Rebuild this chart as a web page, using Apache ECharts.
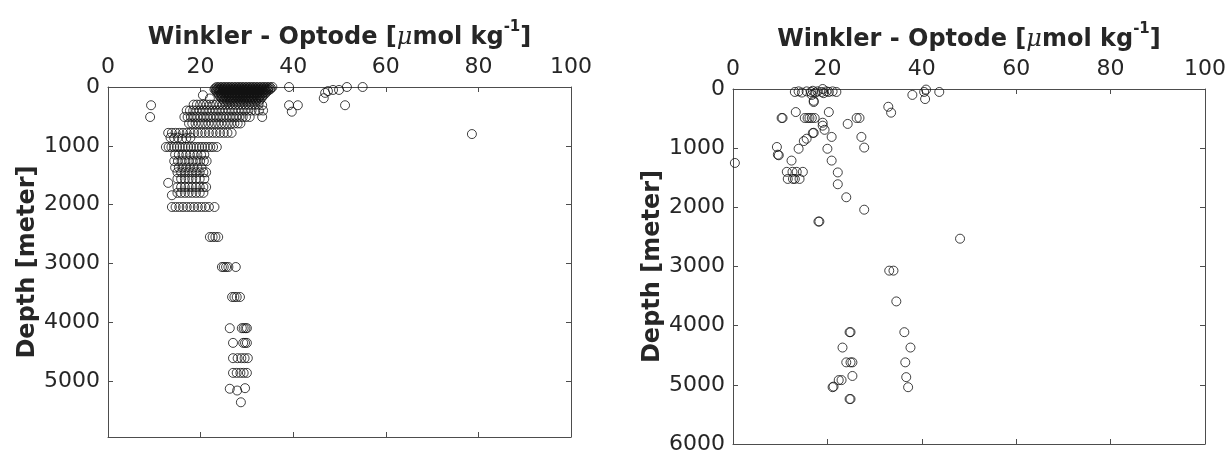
<!DOCTYPE html>
<html>
<head>
<meta charset="utf-8">
<script src="https://cdn.jsdelivr.net/npm/echarts@6/dist/echarts.min.js"></script>
<style>
html,body{margin:0;padding:0;background:#fff;}
#c{width:1229px;height:455px;}
</style>
</head>
<body>
<div id="c"></div>
<script>
// ---------- DATA ----------
var xTicks = [0, 20, 40, 60, 80, 100];
var depthTicksLeft = [0, 1000, 2000, 3000, 4000, 5000];
var depthTicksRight = [0, 1000, 2000, 3000, 4000, 5000, 6000];

// Left panel: [Winkler - Optode, depth]
var leftSurface = [
  [23.5,0],[24.1,0],[24.7,0],[25.3,0],[25.9,0],[26.5,0],[27.1,0],[27.7,0],[28.3,0],[28.9,0],[29.5,0],[30.1,0],[30.7,0],[31.3,0],[31.9,0],[32.5,0],[33.1,0],[33.7,0],[34.3,0],[34.9,0],[35.5,0],
  [23.2,20],[23.8,20],[24.4,20],[25,20],[25.6,20],[26.2,20],[26.8,20],[27.4,20],[28,20],[28.6,20],[29.2,20],[29.8,20],[30.4,20],[31,20],[31.6,20],[32.2,20],[32.8,20],[33.4,20],[34,20],[34.6,20],[35.2,20],
  [23,40],[23.6,40],[24.2,40],[24.8,40],[25.4,40],[26,40],[26.6,40],[27.2,40],[27.8,40],[28.4,40],[29,40],[29.6,40],[30.2,40],[30.8,40],[31.4,40],[32,40],[32.6,40],[33.2,40],[33.8,40],[34.4,40],[35,40],
  [23.3,60],[23.9,60],[24.5,60],[25.1,60],[25.7,60],[26.3,60],[26.9,60],[27.5,60],[28.1,60],[28.7,60],[29.3,60],[29.9,60],[30.5,60],[31.1,60],[31.7,60],[32.3,60],[32.9,60],[33.5,60],[34.1,60],[34.6,60],
  [23.5,85],[24.1,85],[24.7,85],[25.3,85],[25.9,85],[26.5,85],[27.1,85],[27.7,85],[28.3,85],[28.9,85],[29.5,85],[30.1,85],[30.7,85],[31.3,85],[31.9,85],[32.5,85],[33.1,85],[33.7,85],[34.2,85],
  [23.8,110],[24.4,110],[25,110],[25.6,110],[26.2,110],[26.8,110],[27.4,110],[28,110],[28.6,110],[29.2,110],[29.8,110],[30.4,110],[31,110],[31.6,110],[32.2,110],[32.8,110],[33.4,110],[34,110],
  [20.5,140],[24,140],[24.6,140],[25.2,140],[25.8,140],[26.4,140],[27,140],[27.6,140],[28.2,140],[28.8,140],[29.4,140],[30,140],[30.6,140],[31.2,140],[31.8,140],[32.4,140],[33,140],[33.6,140],
  [24.3,170],[24.9,170],[25.5,170],[26.1,170],[26.7,170],[27.3,170],[27.9,170],[28.5,170],[29.1,170],[29.7,170],[30.3,170],[30.9,170],[31.5,170],[32.1,170],[32.7,170],[33.3,170],
  [22,195],[24.6,200],[25.2,200],[25.8,200],[26.4,200],[27,200],[27.6,200],[28.2,200],[28.8,200],[29.4,200],[30,200],[30.6,200],[31.2,200],[31.8,200],[32.4,200],[33,200],
  [25,235],[25.7,235],[26.4,235],[27.1,235],[27.8,235],[28.5,235],[29.2,235],[29.9,235],[30.6,235],[31.3,235],[32,235],[32.7,235]
];
var leftSurfaceOutliers = [
  [39.1,0],[46.9,100],[47.5,70],[48.6,50],[49.9,50],[51.6,0],[55,0],[46.6,190],[51.2,310],
  [39.1,310],[41,310],[39.7,420],[9.3,310],[9.1,510],[33.3,310],[33.3,510],[78.6,800]
];
var leftUpper = [
  [18.5,300],[19.2,300],[19.9,300],[20.6,300],[21.3,300],[22,300],[22.7,300],[23.4,300],[24.1,300],[24.8,300],[25.5,300],[26.2,300],[26.9,300],[27.6,300],[28.3,300],[29,300],[29.7,300],[30.4,300],[31.1,300],[31.8,300],[32.5,300],
  [17,400],[17.7,400],[18.4,400],[19.1,400],[19.8,400],[20.5,400],[21.2,400],[21.9,400],[22.6,400],[23.3,400],[24,400],[24.7,400],[25.4,400],[26.1,400],[26.8,400],[27.5,400],[28.2,400],[28.9,400],[29.6,400],[30.3,400],[31,400],[31.8,400],[32.6,400],[33.5,400],
  [16.5,510],[17.2,510],[17.9,510],[18.6,510],[19.3,510],[20,510],[20.7,510],[21.4,510],[22.1,510],[22.8,510],[23.5,510],[24.2,510],[24.9,510],[25.6,510],[26.3,510],[27,510],[27.7,510],[28.4,510],[29.1,510],[29.8,510],[30.6,510],
  [17.5,620],[18.2,620],[18.9,620],[19.6,620],[20.3,620],[21,620],[21.7,620],[22.4,620],[23.1,620],[23.8,620],[24.5,620],[25.2,620],[25.9,620],[26.6,620],[27.3,620],[28,620],[28.6,620],
  [13,780],[13.8,780],[14.6,780],[15.4,780],[16.2,780],[17,780],[17.8,780],[18.6,780],[19.4,780],[20.2,780],[21,780],[21.8,780],[22.6,780],[23.4,780],[24.2,780],[25,780],[25.8,780],[26.7,780],
  [13.5,860],[14.3,870],[15.1,860],[16,880],[16.9,870],[17.8,860]
];
var leftMid = [
  [12.5,1020],[13.1,1020],[13.7,1020],[14.3,1020],[14.9,1020],[15.5,1020],[16.1,1020],[16.7,1020],[17.3,1020],[17.9,1020],[18.5,1020],[19.1,1020],[19.7,1020],[20.3,1020],[20.9,1020],[21.5,1020],[22.1,1020],[22.7,1020],[23.5,1020],
  [14.5,1150],[15.3,1150],[16.1,1150],[16.9,1150],[17.7,1150],[18.5,1150],[19.3,1150],[20.1,1150],[20.8,1150],
  [14.3,1260],[15.1,1260],[15.9,1260],[16.7,1260],[17.5,1260],[18.3,1260],[19.1,1260],[19.9,1260],[20.7,1260],[21.3,1260],
  [14.5,1370],[15.3,1370],[16.1,1370],[16.9,1370],[17.7,1370],[18.5,1370],[19.3,1370],[20.2,1370],
  [15,1450],[15.8,1450],[16.6,1450],[17.4,1450],[18.2,1450],[19,1450],[19.8,1450],[20.6,1450],[21.2,1450],
  [15,1560],[15.8,1560],[16.6,1560],[17.4,1560],[18.2,1560],[19,1560],[19.8,1560],[20.8,1560],[13,1630],
  [15,1700],[15.8,1700],[16.6,1700],[17.4,1700],[18.2,1700],[19,1700],[19.8,1700],[20.6,1700],[21.2,1700],
  [15,1800],[15.8,1800],[16.6,1800],[17.4,1800],[18.2,1800],[19,1800],[19.8,1800],[20.6,1800],[13.8,1840],
  [13.8,2040],[14.6,2040],[15.4,2040],[16.2,2040],[17,2040],[17.8,2040],[18.6,2040],[19.4,2040],[20.2,2040],[21,2040],[21.8,2040],[23,2040]
];
var leftDeep = [
  [22,2550],[22.6,2550],[23.2,2550],[23.8,2550],
  [24.6,3060],[25,3060],[25.5,3060],[26,3060],[27.6,3060],
  [26.8,3570],[27.3,3570],[27.8,3570],[28.5,3570],
  [26.3,4100],[28.9,4100],[29.3,4100],[29.7,4100],[30,4100],
  [27,4350],[29.2,4350],[29.6,4350],[30,4350],
  [27,4610],[28,4610],[28.8,4610],[29.5,4610],[30.2,4610],
  [27,4860],[27.8,4860],[28.6,4860],[29.3,4860],[30,4860],
  [26.3,5130],[27.9,5160],[29.6,5120],[28.7,5360]
];

// Right panel: [Winkler - Optode, depth]
var rightUpper = [
  [13.1,50],[13.9,40],[14.6,60],[15.6,40],[16.5,50],[16.9,30],[17.5,60],[17.9,40],[18.8,50],[19,0],[19.2,70],[19.8,40],[20.3,50],[21.1,40],[21.9,50],
  [16.7,100],[17.1,200],[17.1,220],
  [40.9,10],[40.5,50],[43.7,50],[38,100],[40.7,170],
  [32.9,300],[33.5,400],[13.3,390],[20.3,390],
  [10.3,490],[10.5,490],[15.2,490],[15.8,490],[16.2,490],[16.7,490],[17.3,490],[26.2,490],[26.8,490],
  [24.3,590],[19,570],[19,620],[19.4,690],[17.1,740],[16.9,745],[15.6,840],[15,880],
  [20.9,810],[27.2,810],[27.8,990],[20,1010],[13.9,1010],[9.3,980],[9.5,1110],[9.7,1120],
  [12.4,1210],[0.4,1250],[20.9,1210]
];
var rightLower = [
  [11.4,1400],[12.6,1400],[13.5,1400],[14.8,1400],[11.6,1520],[12.7,1520],[13.1,1520],[14.1,1520],
  [22.2,1410],[22.2,1610],[24,1830],[27.8,2040],[18.1,2240],[18.3,2240],[48.1,2530],
  [33.1,3070],[34,3070],[34.6,3590],
  [24.7,4110],[24.9,4110],[36.3,4110],[23.2,4370],[37.6,4370],
  [24,4620],[24.9,4620],[25.3,4620],[36.5,4620],[25.3,4850],[36.7,4870],
  [22.4,4920],[23,4920],[21.1,5040],[21.3,5030],[37.1,5040],[24.7,5240],[24.9,5240]
];

// ---------- CHART ----------
var chart = echarts.init(document.getElementById('c'), null, {renderer: 'canvas'});
var FONT = 'DejaVu Sans';
var TXT = '#262626';
var LINE = '#4d4d4d';

var titleRich = {
  b: {fontFamily: FONT, fontWeight: 'bold', fontSize: 24, lineHeight: 30, color: TXT, verticalAlign: 'bottom'},
  mu: {fontFamily: 'DejaVu Serif', fontStyle: 'italic', fontWeight: 'normal', fontSize: 24, lineHeight: 30, color: TXT, verticalAlign: 'bottom'},
  sup: {fontFamily: FONT, fontWeight: 'bold', fontSize: 15, lineHeight: 15, color: TXT, verticalAlign: 'top'}
};
var titleText = '{b|Winkler - Optode [}{mu|μ}{b|mol kg}{sup|-1}{b|]}';

function plain(v) { return String(v); }

function xAxes(gi, ticks) {
  var mn = ticks[0], mx = ticks[ticks.length - 1], iv = ticks[1] - ticks[0];
  return [{
    gridIndex: gi, type: 'value', position: 'top', min: mn, max: mx, interval: iv,
    name: titleText, nameLocation: 'middle', nameGap: 37,
    nameTextStyle: {rich: titleRich},
    axisLine: {show: true, lineStyle: {color: LINE, width: 1}},
    axisTick: {show: true, inside: true, length: 5, lineStyle: {color: LINE}},
    axisLabel: {fontFamily: FONT, fontSize: 22, color: TXT, margin: 9, formatter: plain},
    splitLine: {show: false}
  }, {
    gridIndex: gi, type: 'value', position: 'bottom', min: mn, max: mx, interval: iv,
    axisLine: {show: true, onZero: false, lineStyle: {color: LINE, width: 1}},
    axisTick: {show: true, inside: true, length: 5, lineStyle: {color: LINE}},
    axisLabel: {show: false}, splitLine: {show: false}
  }];
}
function yAxes(gi, ticks, max) {
  var mn = ticks[0], iv = ticks[1] - ticks[0];
  return [{
    gridIndex: gi, type: 'value', position: 'left', inverse: true, min: mn, max: max, interval: iv,
    name: 'Depth [meter]', nameLocation: 'middle', nameGap: 64, nameRotate: 90,
    nameTextStyle: {fontFamily: FONT, fontWeight: 'bold', fontSize: 24, color: TXT},
    axisLine: {show: true, onZero: false, lineStyle: {color: LINE, width: 1}},
    axisTick: {show: true, inside: true, length: 5, lineStyle: {color: LINE}},
    axisLabel: {fontFamily: FONT, fontSize: 22, color: TXT, margin: 8, formatter: plain, showMaxLabel: max % iv === 0},
    splitLine: {show: false}
  }, {
    gridIndex: gi, type: 'value', position: 'right', inverse: true, min: mn, max: max, interval: iv,
    axisLine: {show: true, onZero: false, lineStyle: {color: LINE, width: 1}},
    axisTick: {show: true, inside: true, length: 5, lineStyle: {color: LINE}},
    axisLabel: {show: false}, splitLine: {show: false}
  }];
}

function sc(data, gi) {
  return {
    type: 'scatter', xAxisIndex: gi * 2, yAxisIndex: gi * 2, data: data,
    symbol: 'circle', symbolSize: 9, silent: true,
    itemStyle: {color: 'rgba(0,0,0,0)', borderColor: '#111', borderWidth: 1}
  };
}

chart.setOption({
  animation: false,
  backgroundColor: '#fff',
  grid: [
    {left: 108, top: 87, width: 463, height: 350},
    {left: 733, top: 89, width: 474, height: 356}
  ],
  xAxis: xAxes(0, xTicks).concat(xAxes(1, xTicks)),
  yAxis: yAxes(0, depthTicksLeft, 5950).concat(yAxes(1, depthTicksRight, 6000)),
  series: [
    sc(leftSurface, 0), sc(leftSurfaceOutliers, 0), sc(leftUpper, 0), sc(leftMid, 0), sc(leftDeep, 0),
    sc(rightUpper, 1), sc(rightLower, 1)
  ]
});
</script>
</body>
</html>
